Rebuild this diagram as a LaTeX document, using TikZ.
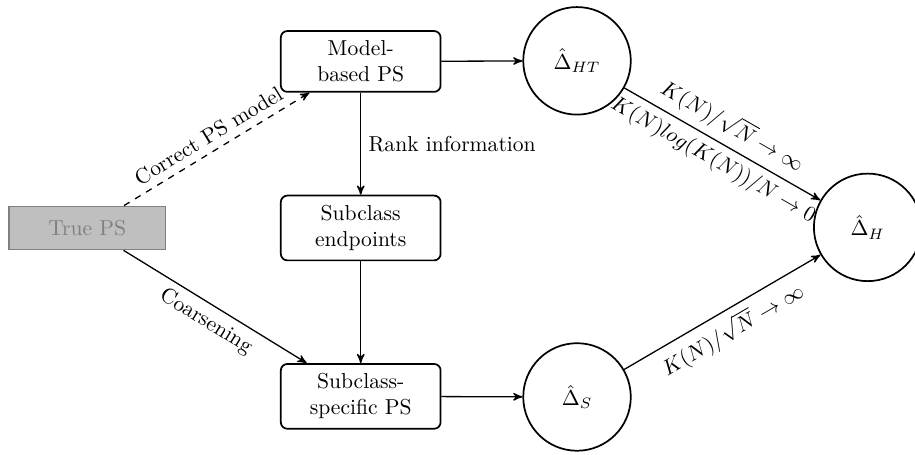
\documentclass[tikz,border=0pt]{standalone}
\usepackage{amsmath,amssymb}
\usepackage{tikz}
\usetikzlibrary{arrows}

\begin{document}
\begin{tikzpicture}[
            scale=1.0,
            psbox/.style={draw, thick, rounded corners=3pt, align=center,
            minimum width=2.6cm, inner sep=4.5pt},
            truebox/.style={draw=gray, thick, fill=gray!50, text=gray,
            minimum width=2.55cm, minimum height=0.7cm},
            estimator/.style={circle, draw, thick, minimum size=1.75cm},
            pile/.style={semithick, ->, >=stealth'},
            every node/.style={color=black}
            ]

            \useasboundingbox (0.0, 0.0) rectangle (14.89, -7.39);

            % propensity scores
            \node[truebox] (truePS) at (1.42, -3.71) {True PS};
            \node[psbox] (modelPS) at (5.87, -1.00) {Model-\\based PS};
            \node[psbox] (endpoints) at (5.87, -3.71) {Subclass\\endpoints};
            \node[psbox] (specificPS) at (5.87, -6.45) {Subclass-\\specific PS};

            % estimators
            \node[estimator] (deltaHT) at (9.39, -0.99) {$\hat{\Delta}_{HT}$};
            \node[estimator] (deltaS) at (9.39, -6.46) {$\hat{\Delta}_{S}$};
            \node[estimator] (deltaH) at (14.12, -3.70) {$\hat{\Delta}_{H}$};

            \draw[pile, dashed] (truePS) -- node[above, sloped]{Correct PS model} (modelPS);
            \draw[pile] (truePS) -- node[below, sloped]{Coarsening} (specificPS);
            \draw[pile] (modelPS) -- node[right]{Rank information} (endpoints);
            \draw[pile] (endpoints) -- (specificPS);
            \draw[pile] (modelPS) -- (deltaHT);
            \draw[pile] (specificPS) -- (deltaS);

            \draw[pile] (deltaHT) -- node[above, sloped]{$K(N)/\sqrt{N}\rightarrow\infty$}
                node[below, sloped]{$K(N)log(K(N))/N\rightarrow 0$} (deltaH);
            \draw[pile] (deltaS) -- node[below, sloped]{$K(N)/\sqrt{N}\rightarrow\infty$} (deltaH);

        \end{tikzpicture}
\end{document}
